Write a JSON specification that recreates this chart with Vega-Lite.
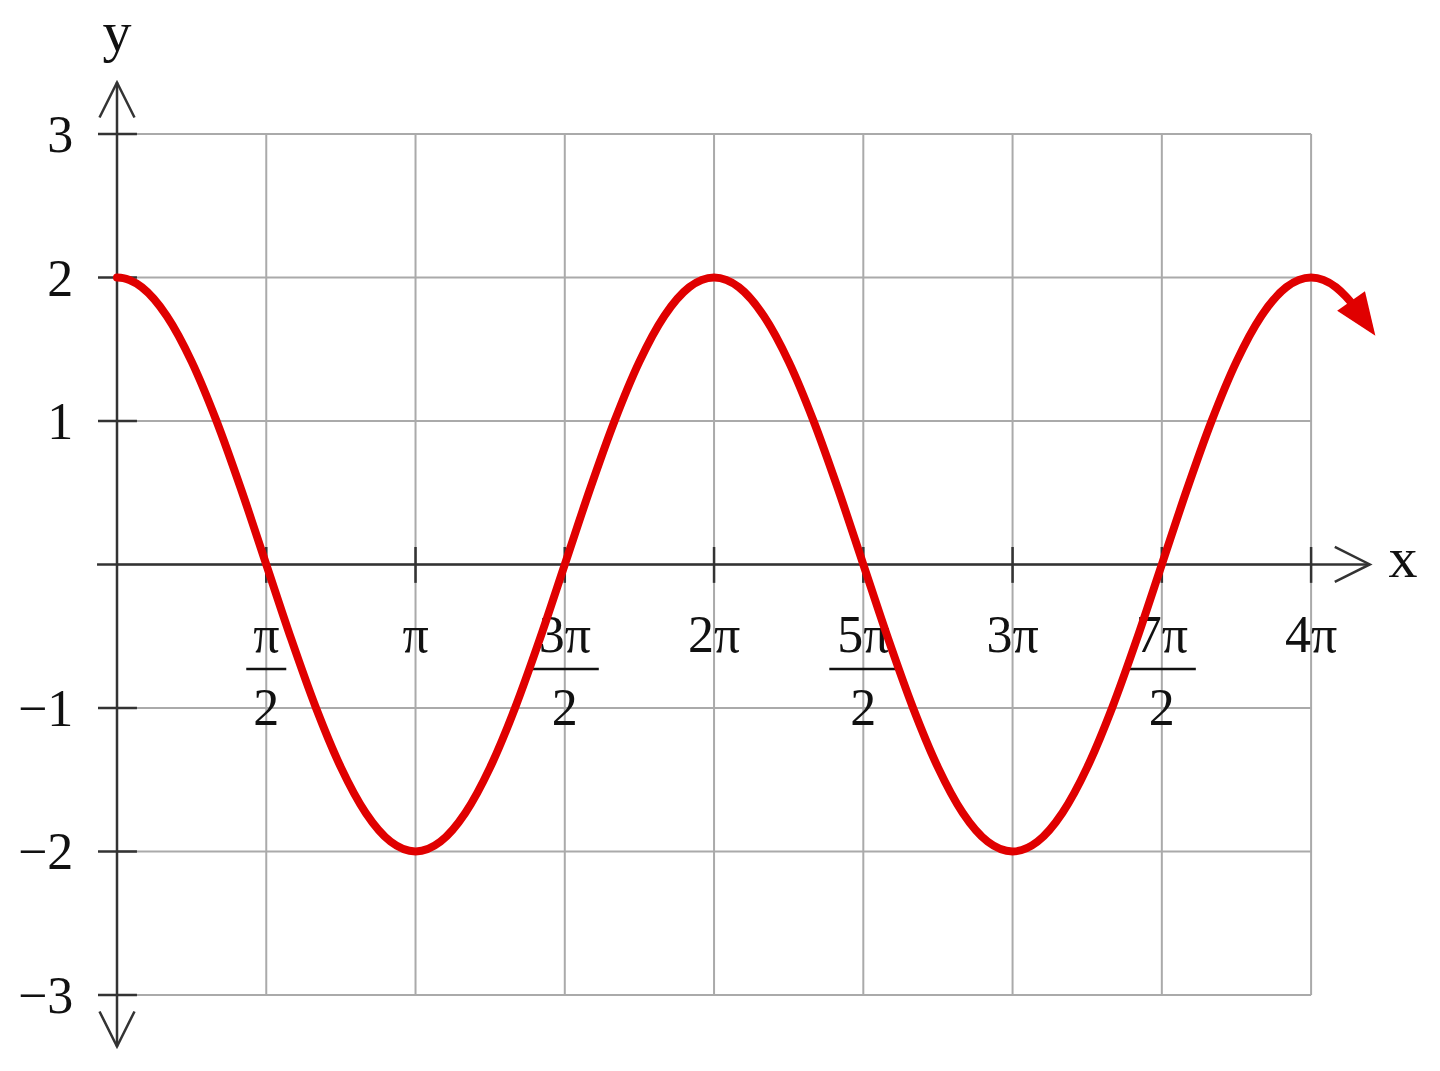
{
  "$schema": "https://vega.github.io/schema/vega-lite/v6.json",
  "width": 1440,
  "height": 1071,
  "autosize": {"type": "none"},
  "padding": 0,
  "background": "white",
  "config": {"view": {"stroke": null}},
  "datasets": {
    "curve": [
      {"x": 0, "y": 2}, {"x": 0.0654, "y": 1.996}, {"x": 0.1309, "y": 1.983}, {"x": 0.2618, "y": 1.932}, {"x": 0.5236, "y": 1.732}, {"x": 0.7854, "y": 1.414},
      {"x": 1.0472, "y": 1}, {"x": 1.309, "y": 0.518}, {"x": 1.5708, "y": 0}, {"x": 1.8326, "y": -0.518},
      {"x": 2.0944, "y": -1}, {"x": 2.3562, "y": -1.414}, {"x": 2.618, "y": -1.732}, {"x": 2.8798, "y": -1.932},
      {"x": 3.1416, "y": -2}, {"x": 3.4034, "y": -1.932}, {"x": 3.6652, "y": -1.732}, {"x": 3.927, "y": -1.414},
      {"x": 4.1888, "y": -1}, {"x": 4.4506, "y": -0.518}, {"x": 4.7124, "y": 0}, {"x": 4.9742, "y": 0.518},
      {"x": 5.236, "y": 1}, {"x": 5.4978, "y": 1.414}, {"x": 5.7596, "y": 1.732}, {"x": 6.0214, "y": 1.932},
      {"x": 6.2832, "y": 2}, {"x": 6.545, "y": 1.932}, {"x": 6.8068, "y": 1.732}, {"x": 7.0686, "y": 1.414},
      {"x": 7.3304, "y": 1}, {"x": 7.5922, "y": 0.518}, {"x": 7.854, "y": 0}, {"x": 8.1158, "y": -0.518},
      {"x": 8.3776, "y": -1}, {"x": 8.6394, "y": -1.414}, {"x": 8.9012, "y": -1.732}, {"x": 9.163, "y": -1.932},
      {"x": 9.4248, "y": -2}, {"x": 9.6866, "y": -1.932}, {"x": 9.9484, "y": -1.732}, {"x": 10.2102, "y": -1.414},
      {"x": 10.472, "y": -1}, {"x": 10.7338, "y": -0.518}, {"x": 10.9956, "y": 0}, {"x": 11.2574, "y": 0.518},
      {"x": 11.5192, "y": 1}, {"x": 11.781, "y": 1.414}, {"x": 12.0428, "y": 1.732}, {"x": 12.3046, "y": 1.932},
      {"x": 12.5664, "y": 2}, {"x": 12.8282, "y": 1.932}, {"x": 12.93, "y": 1.869}, {"x": 13.02, "y": 1.8}
    ],
    "xgrid": [
      {"x": 0}, {"x": 1.5708}, {"x": 3.1416}, {"x": 4.7124}, {"x": 6.2832},
      {"x": 7.854}, {"x": 9.4248}, {"x": 10.9956}, {"x": 12.5664}
    ],
    "ygrid": [
      {"y": -3}, {"y": -2}, {"y": -1}, {"y": 0}, {"y": 1}, {"y": 2}, {"y": 3}
    ],
    "ylabels": [
      {"y": 3, "label": "3"}, {"y": 2, "label": "2"}, {"y": 1, "label": "1"},
      {"y": -1, "label": "−1"}, {"y": -2, "label": "−2"}, {"y": -3, "label": "−3"}
    ],
    "xlabels": [
      {"x": 1.5708, "num": "π", "den": "2", "kind": "narrow"},
      {"x": 3.1416, "num": "π", "den": "", "kind": "whole"},
      {"x": 4.7124, "num": "3π", "den": "2", "kind": "wide"},
      {"x": 6.2832, "num": "2π", "den": "", "kind": "whole"},
      {"x": 7.854, "num": "5π", "den": "2", "kind": "wide"},
      {"x": 9.4248, "num": "3π", "den": "", "kind": "whole"},
      {"x": 10.9956, "num": "7π", "den": "2", "kind": "wide"},
      {"x": 12.5664, "num": "4π", "den": "", "kind": "whole"}
    ],
    "single": [{}]
  },
  "layer": [
    {
      "data": {"name": "xgrid"},
      "mark": {"type": "rule", "color": "#aaaaaa", "strokeWidth": 2},
      "encoding": {
        "x": {"field": "x", "type": "quantitative", "scale": {"domain": [-1.2313, 13.923], "nice": false, "zero": false}, "axis": null},
        "y": {"datum": -3, "type": "quantitative", "scale": {"domain": [-3.53, 3.934], "nice": false, "zero": false}, "axis": null},
        "y2": {"datum": 3}
      }
    },
    {
      "data": {"name": "ygrid"},
      "mark": {"type": "rule", "color": "#aaaaaa", "strokeWidth": 2},
      "encoding": {
        "y": {"field": "y", "type": "quantitative"},
        "x": {"datum": 0, "type": "quantitative"},
        "x2": {"datum": 12.5664}
      }
    },
    {
      "data": {"name": "xgrid"},
      "transform": [{"filter": "datum.x > 0"}],
      "mark": {"type": "rule", "color": "#333333", "strokeWidth": 2.5},
      "encoding": {
        "x": {"field": "x", "type": "quantitative"},
        "y": {"datum": -0.128, "type": "quantitative"},
        "y2": {"datum": 0.122}
      }
    },
    {
      "data": {"name": "ygrid"},
      "transform": [{"filter": "datum.y != 0"}],
      "mark": {"type": "rule", "color": "#333333", "strokeWidth": 2.5},
      "encoding": {
        "y": {"field": "y", "type": "quantitative"},
        "x": {"datum": -0.2, "type": "quantitative"},
        "x2": {"datum": 0.21}
      }
    },
    {
      "data": {"name": "single"},
      "mark": {"type": "rule", "color": "#333333", "strokeWidth": 2.5},
      "encoding": {
        "x": {"datum": -0.21, "type": "quantitative"},
        "x2": {"datum": 13.18},
        "y": {"datum": 0, "type": "quantitative"}
      }
    },
    {
      "data": {"name": "single"},
      "mark": {"type": "rule", "color": "#333333", "strokeWidth": 2.5},
      "encoding": {
        "x": {"datum": 0, "type": "quantitative"},
        "y": {"datum": -3.36, "type": "quantitative"},
        "y2": {"datum": 3.36}
      }
    },
    {
      "data": {"name": "single"},
      "mark": {"type": "point", "shape": "M -1 -1 L 1 0 L -1 1", "filled": false, "stroke": "#333333", "strokeWidth": 2.5, "size": 1225, "opacity": 1},
      "encoding": {
        "x": {"datum": 13.0, "type": "quantitative"},
        "y": {"datum": 0, "type": "quantitative"}
      }
    },
    {
      "data": {"name": "single"},
      "mark": {"type": "point", "shape": "M -1 1 L 0 -1 L 1 1", "filled": false, "stroke": "#333333", "strokeWidth": 2.5, "size": 1225, "opacity": 1},
      "encoding": {
        "x": {"datum": 0, "type": "quantitative"},
        "y": {"datum": 3.237, "type": "quantitative"}
      }
    },
    {
      "data": {"name": "single"},
      "mark": {"type": "point", "shape": "M -1 -1 L 0 1 L 1 -1", "filled": false, "stroke": "#333333", "strokeWidth": 2.5, "size": 1225, "opacity": 1},
      "encoding": {
        "x": {"datum": 0, "type": "quantitative"},
        "y": {"datum": -3.237, "type": "quantitative"}
      }
    },
    {
      "data": {"name": "ylabels"},
      "mark": {"type": "text", "font": "Liberation Serif", "fontSize": 52, "align": "right", "baseline": "middle", "color": "#111111", "dy": 2},
      "encoding": {
        "y": {"field": "y", "type": "quantitative"},
        "x": {"datum": -0.46, "type": "quantitative"},
        "text": {"field": "label"}
      }
    },
    {
      "data": {"name": "xlabels"},
      "mark": {"type": "text", "font": "Liberation Serif", "fontSize": 52, "align": "center", "baseline": "middle", "color": "#111111"},
      "encoding": {
        "x": {"field": "x", "type": "quantitative"},
        "y": {"datum": -0.5, "type": "quantitative"},
        "text": {"field": "num"}
      }
    },
    {
      "data": {"name": "xlabels"},
      "transform": [{"filter": "datum.den != ''"}],
      "mark": {"type": "text", "font": "Liberation Serif", "fontSize": 52, "align": "center", "baseline": "middle", "color": "#111111"},
      "encoding": {
        "x": {"field": "x", "type": "quantitative"},
        "y": {"datum": -1.01, "type": "quantitative"},
        "text": {"field": "den"}
      }
    },
    {
      "data": {"name": "xlabels"},
      "transform": [{"filter": "datum.kind == 'narrow'"}],
      "mark": {"type": "rule", "color": "#111111", "strokeWidth": 2.5, "xOffset": -20, "x2Offset": 20},
      "encoding": {
        "x": {"field": "x", "type": "quantitative"},
        "x2": {"field": "x"},
        "y": {"datum": -0.728, "type": "quantitative"}
      }
    },
    {
      "data": {"name": "xlabels"},
      "transform": [{"filter": "datum.kind == 'wide'"}],
      "mark": {"type": "rule", "color": "#111111", "strokeWidth": 2.5, "xOffset": -34, "x2Offset": 34},
      "encoding": {
        "x": {"field": "x", "type": "quantitative"},
        "x2": {"field": "x"},
        "y": {"datum": -0.728, "type": "quantitative"}
      }
    },
    {
      "data": {"name": "single"},
      "mark": {"type": "text", "text": "x", "font": "Liberation Serif", "fontSize": 58, "align": "center", "baseline": "middle", "color": "#111111"},
      "encoding": {
        "x": {"datum": 13.534, "type": "quantitative"},
        "y": {"datum": 0.03, "type": "quantitative"}
      }
    },
    {
      "data": {"name": "single"},
      "mark": {"type": "text", "text": "y", "font": "Liberation Serif", "fontSize": 58, "align": "center", "baseline": "middle", "color": "#111111"},
      "encoding": {
        "x": {"datum": 0, "type": "quantitative"},
        "y": {"datum": 3.7, "type": "quantitative"}
      }
    },
    {
      "data": {"name": "curve"},
      "mark": {"type": "line", "color": "#e00000", "strokeWidth": 8, "interpolate": "monotone", "strokeCap": "round"},
      "encoding": {
        "x": {"field": "x", "type": "quantitative"},
        "y": {"field": "y", "type": "quantitative"}
      }
    },
    {
      "data": {"name": "single"},
      "mark": {"type": "point", "shape": "M -1 -0.8 L 1 0 L -1 0.8 Z", "filled": true, "color": "#e00000", "opacity": 1, "size": 1800, "angle": 55},
      "encoding": {
        "x": {"datum": 13.115, "type": "quantitative"},
        "y": {"datum": 1.715, "type": "quantitative"}
      }
    }
  ]
}
